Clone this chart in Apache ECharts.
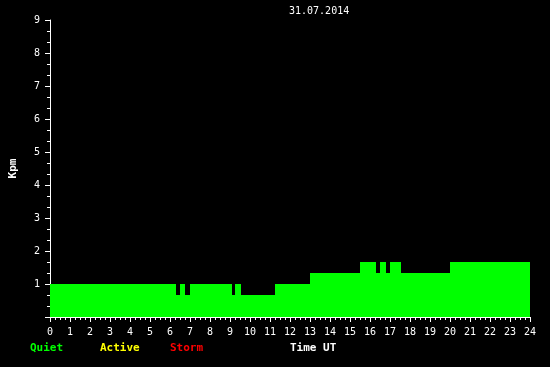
<!DOCTYPE html>
<html><head><meta charset="utf-8">
<script src="https://cdn.jsdelivr.net/npm/echarts@6/dist/echarts.min.js"></script>
<style>html,body{margin:0;padding:0;background:#000;}#c{width:550px;height:367px;}</style>
</head><body><div id="c"></div>
<script>
var title = '31.07.2014';
var times = [0, 6.3, 6.5, 6.75, 7.0, 9.1, 9.25, 9.55, 11.25, 13.0, 15.5, 16.3, 16.5, 16.8, 17.0, 17.55, 20.0, 24];
var kpm   = [1, 0.667, 1, 0.667, 1, 0.667, 1, 0.667, 1, 1.333, 1.667, 1.333, 1.667, 1.333, 1.667, 1.333, 1.667, 1.667];
var legendNames = ['Quiet', 'Active', 'Storm'];
var legendColors = ['#00ff00', '#ffff00', '#ff0000'];
var xName = 'Time UT';
var yName = 'Kpm';

var font = 'DejaVu Sans Mono';
var data = times.map(function(t, i){ return [t, kpm[i]]; });
var chart = echarts.init(document.getElementById('c'));
var legendX = [30, 100, 170];
var graphics = legendNames.map(function(n, i){
  return {type:'text', left: legendX[i], top: 343, style:{text:n, fill:legendColors[i], font:'bold 11px "'+font+'"'}};
});
graphics.push({type:'text', left: 290, top: 343, style:{text:xName, fill:'#fff', font:'bold 11px "'+font+'"'}});
graphics.push({type:'text', left: 289, top: 6, style:{text:title, fill:'#fff', font:'10px "'+font+'"'}});
chart.setOption({
  backgroundColor:'#000',
  animation:false,
  grid:{left:50, right:20, top:20, bottom:50, containLabel:false, outerBoundsMode:'none'},
  xAxis:{type:'value', min:0, max:24, interval:1,
    axisLine:{lineStyle:{color:'#fff', width:1}},
    axisTick:{inside:false, length:5, lineStyle:{color:'#fff'}},
    minorTick:{show:true, splitNumber:4, length:3, lineStyle:{color:'#fff'}},
    splitLine:{show:false},
    axisLabel:{color:'#fff', fontFamily:font, fontSize:10, margin:10}},
  yAxis:{type:'value', min:0, max:9, interval:1,
    name:yName, nameLocation:'middle', nameGap:31, nameRotate:90,
    nameTextStyle:{color:'#fff', fontFamily:font, fontSize:11, fontWeight:'bold'},
    axisLine:{show:true, lineStyle:{color:'#fff', width:1}},
    axisTick:{show:true, inside:false, length:5, lineStyle:{color:'#fff'}},
    minorTick:{show:true, splitNumber:3, length:3, lineStyle:{color:'#fff'}},
    splitLine:{show:false},
    axisLabel:{color:'#fff', fontFamily:font, fontSize:10, margin:10, showMinLabel:false}},
  series:[{type:'line', step:'end', data:data, symbol:'none',
    lineStyle:{width:0}, areaStyle:{color:'#00ff00', opacity:1}, z:1}],
  graphic:graphics
});
</script></body></html>
